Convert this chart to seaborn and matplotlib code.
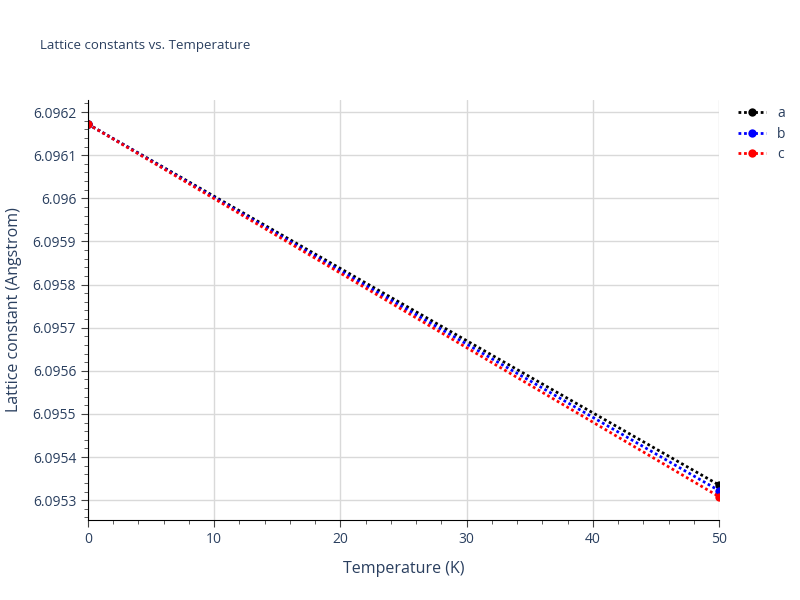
import matplotlib
matplotlib.use("Agg")
import matplotlib.pyplot as plt
import seaborn as sns
import pandas as pd
from matplotlib.ticker import FuncFormatter, MultipleLocator

temperature = [0, 50]
lattice_a = [6.096172, 6.095335]
lattice_b = [6.096172, 6.095322]
lattice_c = [6.096172, 6.095308]
series_names = ["a", "b", "c"]
colors = ["black", "blue", "red"]

rows = []
for name, vals in zip(series_names, [lattice_a, lattice_b, lattice_c]):
    for t, v in zip(temperature, vals):
        rows.append({"T": t, "L": v, "series": name})
df = pd.DataFrame(rows)

sns.set_style("white")
plt.rcParams["font.family"] = ["Open Sans", "DejaVu Sans"]
fig = plt.figure(figsize=(8, 6), dpi=100)
ax = fig.add_axes([0.11, 0.1333, 0.789, 0.7])

for name, col in zip(series_names, colors):
    sub = df[df["series"] == name]
    sns.lineplot(data=sub, x="T", y="L", ax=ax, color=col, linestyle=(0, (1, 1)),
                 linewidth=2, marker="o", markersize=6, markeredgewidth=0, label=name)

ax.set_xlim(0, 50)
ax.set_ylim(6.095254, 6.096228)
ax.xaxis.set_major_locator(MultipleLocator(10))
ax.xaxis.set_minor_locator(MultipleLocator(2))
ax.yaxis.set_major_locator(MultipleLocator(0.0001))
ax.yaxis.set_minor_locator(MultipleLocator(0.00002))
ax.yaxis.set_major_formatter(FuncFormatter(lambda v, p: ("%.4f" % v).rstrip("0").rstrip(".")))
ax.grid(True, which="major", color="#d9d9d9", linewidth=1)
for s in ["top", "right"]:
    ax.spines[s].set_visible(False)
for s in ["left", "bottom"]:
    ax.spines[s].set_color("black")
ax.tick_params(which="major", direction="out", length=5, color="#444", labelsize=10, labelcolor="#2a3f5f", left=True, bottom=True)
ax.tick_params(which="minor", direction="out", length=3, color="#444", left=True, bottom=True)
ax.set_xlabel("Temperature (K)", fontsize=11.5, color="#2a3f5f", labelpad=10)
ax.set_ylabel("Lattice constant (Angstrom)", fontsize=11.5, color="#2a3f5f", labelpad=8)
fig.text(0.05, 0.918, "Lattice constants vs. Temperature", fontsize=9.5, color="#2a3f5f")
ax.legend(loc="upper left", bbox_to_anchor=(1.01, 1.015), frameon=False, fontsize=10,
          handlelength=2, labelspacing=0.4, labelcolor="#2a3f5f")

fig.savefig("out.png", dpi=100)
